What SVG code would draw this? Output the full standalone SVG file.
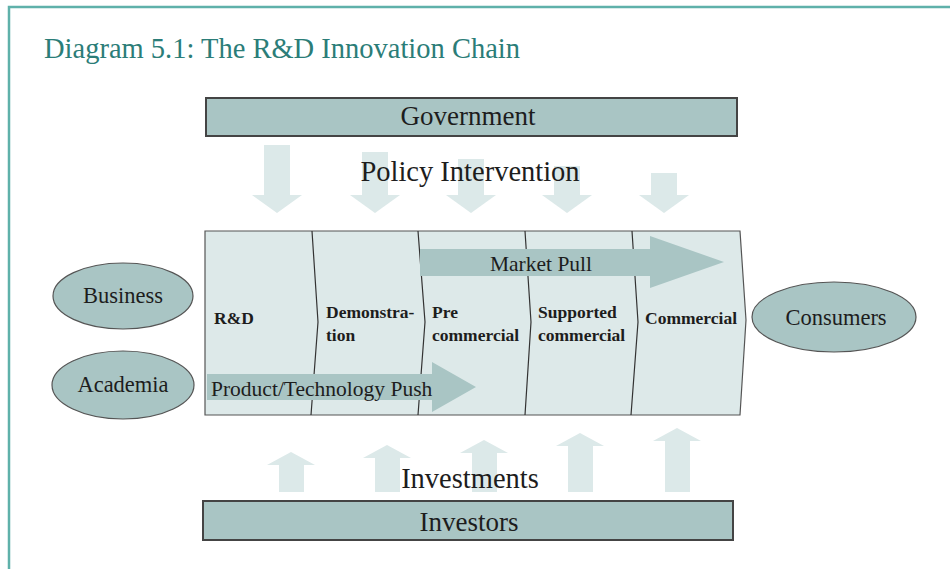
<svg xmlns="http://www.w3.org/2000/svg" width="950" height="569" viewBox="0 0 950 569">
<style>
.frame{fill:none;stroke:#5fb1aa;stroke-width:2.5}
.title{font-family:"Liberation Serif",serif;font-size:28.5px;fill:#2b7d78}
.bar{fill:#a9c5c4;stroke:#444;stroke-width:2}
.ell{fill:#a9c5c4;stroke:#555;stroke-width:1.2}
.lbl{font-family:"Liberation Serif",serif;fill:#1d1d1d}
.big{font-size:28.5px}
.mid{font-size:27px}
.oval{font-size:22.5px}
.flowt{font-size:21.5px}
.stage{font-family:"Liberation Serif",serif;font-size:17.5px;font-weight:bold;fill:#1d1d1d}
.flow{fill:#a9c5c4}
.light{fill:#dce9e9}
.chain{fill:#dde9e9;stroke:#555;stroke-width:1.2}
.div{fill:none;stroke:#333;stroke-width:1.2}
</style>
<rect width="950" height="569" fill="#fff"/>
<polyline class="frame" points="9,569 9,7 950,7"/>
<text class="title" x="44" y="58">Diagram 5.1: The R&amp;D Innovation Chain</text>

<g id="policy-arrows">
<polygon class="light" points="264,145 290,145 290,195 302,195 277,213 252,195 264,195"/>
<polygon class="light" points="362,152 388,152 388,195 400,195 375,213 350,195 362,195"/>
<polygon class="light" points="458,159 484,159 484,195 496,195 471,213 446,195 458,195"/>
<polygon class="light" points="554,166 580,166 580,195 592,195 567,213 542,195 554,195"/>
<polygon class="light" points="651,173 677,173 677,195 689,195 664,213 639,195 651,195"/>
</g>
<g id="investment-arrows">
<polygon class="light" points="279,492 304,492 304,465 315,465 291,452 267,465 279,465"/>
<polygon class="light" points="375,492 400,492 400,458 411,458 387,445 363,458 375,458"/>
<polygon class="light" points="472,492 497,492 497,453 508,453 484,440 460,453 472,453"/>
<polygon class="light" points="568,492 593,492 593,446 604,446 580,433 556,446 568,446"/>
<polygon class="light" points="665,492 690,492 690,441 701,441 677,428 653,441 665,441"/>
</g>

<g id="government">
<rect class="bar" x="206" y="98" width="531" height="38"/>
<text class="lbl mid" x="468" y="125" text-anchor="middle">Government</text>
</g>
<text class="lbl big" x="470" y="181" text-anchor="middle">Policy Intervention</text>

<g id="chain">
<path class="chain" d="M205,231 L740,231 L746,320 L740,415 L205,415 Z"/>
<path class="div" d="M312,231 L318,322 L311,415"/>
<path class="div" d="M418,231 L425,322 L418,415"/>
<path class="div" d="M525,231 L531,322 L525,415"/>
<path class="div" d="M632,231 L638,322 L631,415"/>
</g>

<g id="market-pull">
<polygon class="flow" points="420,249 650,249 650,236 724,262 650,288 650,276 420,276"/>
<text class="lbl flowt" x="541" y="271" text-anchor="middle">Market Pull</text>
</g>
<g id="tech-push">
<polygon class="flow" points="207,374 432,374 432,362 476,387 432,412 432,400 207,400"/>
<text class="lbl flowt" x="211" y="396">Product/Technology Push</text>
</g>

<g id="stage-rd"><text class="stage" x="214" y="324">R&amp;D</text></g>
<g id="stage-demo"><text class="stage" x="326" y="318">Demonstra-</text><text class="stage" x="326" y="341">tion</text></g>
<g id="stage-pre"><text class="stage" x="432" y="318">Pre</text><text class="stage" x="432" y="341">commercial</text></g>
<g id="stage-supported"><text class="stage" x="538" y="318">Supported</text><text class="stage" x="538" y="341">commercial</text></g>
<g id="stage-commercial"><text class="stage" x="645" y="324">Commercial</text></g>

<g id="business">
<ellipse class="ell" cx="123" cy="296" rx="70" ry="33"/>
<text class="lbl oval" x="123" y="303" text-anchor="middle">Business</text>
</g>
<g id="academia">
<ellipse class="ell" cx="123" cy="385" rx="71" ry="34"/>
<text class="lbl oval" x="123" y="392" text-anchor="middle">Academia</text>
</g>
<g id="consumers">
<ellipse class="ell" cx="834" cy="317" rx="82" ry="35"/>
<text class="lbl oval" x="836" y="325" text-anchor="middle">Consumers</text>
</g>

<text class="lbl big" x="470" y="488" text-anchor="middle">Investments</text>
<g id="investors">
<rect class="bar" x="203" y="501" width="530" height="39"/>
<text class="lbl mid" x="469" y="531" text-anchor="middle">Investors</text>
</g>
</svg>
